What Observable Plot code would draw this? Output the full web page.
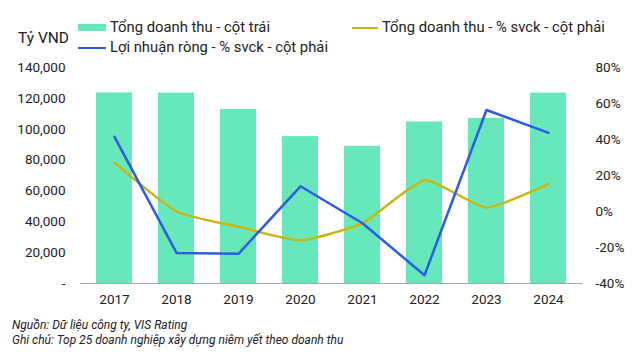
<!DOCTYPE html>
<html>
<head>
<meta charset="utf-8">
<script src="https://cdn.jsdelivr.net/npm/d3@7"></script>
<script src="https://cdn.jsdelivr.net/npm/@observablehq/plot@0.6"></script>
<style>
  body { margin: 0; background: #fff; font-family: Roboto, "Noto Sans", sans-serif; color: #222; }
  #wrap { position: relative; width: 640px; height: 360px; overflow: hidden; }
  .abs { position: absolute; white-space: nowrap; }
  .lg { font-size: 14.8px; line-height: 18px; }
  .note { font-size: 12px; font-style: italic; line-height: 15px; }
</style>
</head>
<body>
<div id="wrap">
  <div id="chart"></div>
  <div class="abs lg" style="left:18px; top:29px; font-size:15.5px;">Tỷ VND</div>
  <div class="abs" style="left:78px; top:24px; width:28px; height:7px; background:#66E8BB;"></div>
  <div class="abs lg" style="left:110px; top:18px;">Tổng doanh thu - cột trái</div>
  <div class="abs" style="left:352px; top:26.5px; width:26px; height:2.5px; background:#C9B512;"></div>
  <div class="abs lg" style="left:382px; top:18px;">Tổng doanh thu - % svck - cột phải</div>
  <div class="abs" style="left:78px; top:46.5px; width:28px; height:2.5px; background:#2D5BE3;"></div>
  <div class="abs lg" style="left:110px; top:38px;">Lợi nhuận ròng - % svck - cột phải</div>
  <div class="abs note" style="left:12px; top:318px;">Nguồn: Dữ liệu công ty, VIS Rating</div>
  <div class="abs note" style="left:12px; top:333px;">Ghi chú: Top 25 doanh nghiệp xây dựng niêm yết theo doanh thu</div>
</div>
<script>
const years = ["2017", "2018", "2019", "2020", "2021", "2022", "2023", "2024"];
const revenue = [123500, 123400, 112800, 95200, 88900, 104700, 107000, 123400];
const revenueGrowth = [27, 0, -8.5, -16, -6.5, 17.3, 2.2, 15.3];
const profitGrowth = [41.5, -23, -23.5, 14, -6.5, -35.4, 56.4, 43.7];
const leftTicks = [0, 20000, 40000, 60000, 80000, 100000, 120000, 140000];
const rightTicks = [-40, -20, 0, 20, 40, 60, 80];

const leftMax = 140000, pMin = -40, pMax = 80;
const toLeft = p => (p - pMin) / (pMax - pMin) * leftMax;
const fromLeft = v => v / leftMax * (pMax - pMin) + pMin;

const rows = years.map((year, i) => ({
  year, revenue: revenue[i], revG: toLeft(revenueGrowth[i]), profG: toLeft(profitGrowth[i])
}));

const chart = Plot.plot({
  width: 640,
  height: 360,
  marginLeft: 80,
  marginRight: 58,
  marginTop: 67,
  marginBottom: 77,
  style: { fontFamily: "Roboto, 'Noto Sans', sans-serif", fontSize: "13.5px", color: "#222", background: "transparent" },
  x: { type: "band", domain: years, paddingInner: 0.426, paddingOuter: 0.223, axis: null },
  y: { domain: [0, leftMax], axis: null },
  marks: [
    Plot.barY(rows, { x: "year", y: "revenue", fill: "#66E8BB" }),
    Plot.ruleY([0], { stroke: "#A0A8A8", strokeWidth: 1 }),
    Plot.line(rows, { x: "year", y: "revG", stroke: "#C9B512", strokeWidth: 2.5, curve: "cardinal", tension: 0.5 }),
    Plot.line(rows, { x: "year", y: "profG", stroke: "#2D5BE3", strokeWidth: 2.5 }),
    Plot.axisX({ tickSize: 0, tickPadding: 11, fontSize: 13.5, label: null }),
    Plot.axisY(leftTicks, { anchor: "left", tickSize: 0, tickPadding: 15, fontSize: 13.5, label: null,
      tickFormat: d => d === 0 ? "-" : d3.format(",")(d) }),
    Plot.axisY(rightTicks.map(toLeft), { anchor: "right", tickSize: 0, tickPadding: 13, fontSize: 13.5, label: null,
      tickFormat: d => `${Math.round(fromLeft(d)) || 0}%` })
  ]
});
document.getElementById("chart").appendChild(chart);
</script>
</body>
</html>
